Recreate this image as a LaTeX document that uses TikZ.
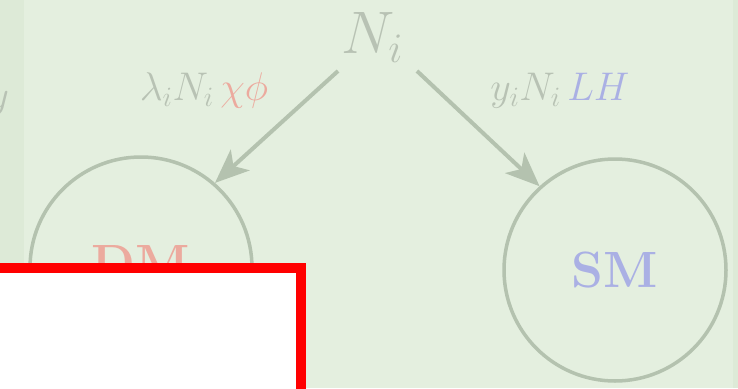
\documentclass[tikz,border=0pt]{standalone}
\usepackage{fix-cm}
\usetikzlibrary{arrows.meta}
\definecolor{bgmain}{RGB}{228,239,223}
\definecolor{bgside}{RGB}{221,234,215}
\definecolor{linec}{RGB}{180,194,175}
\definecolor{textc}{RGB}{184,194,180}
\definecolor{redc}{RGB}{236,170,158}
\definecolor{bluec}{RGB}{170,176,228}
\tikzset{
  circ/.style={circle, draw=linec, line width=3.5pt, minimum size=222pt, inner sep=0pt},
  arr/.style={draw=linec, line width=4pt, -{Stealth[length=34pt,width=28pt,inset=9pt]}},
  lbl/.style={text=textc, anchor=base, inner sep=0pt, font=\fontsize{40}{44}\selectfont},
  big/.style={text=textc, anchor=base, inner sep=0pt, font=\fontsize{60}{66}\selectfont},
  cname/.style={inner sep=0pt, font=\fontsize{51}{56}\selectfont\bfseries}
}
\begin{document}
\begin{tikzpicture}[x=1pt,y=-1pt]
\useasboundingbox (0,0) rectangle (738,388);
\fill[bgside] (0,0) rectangle (738,388);
\fill[bgmain] (24,0) rectangle (733,388);
\node[lbl, anchor=base east] (frag) at (9,108) {$y$};
\node[big] (n) at (372,53) {$N_i$};
\node[circ] (dm) at (141,268) {};
\node[circ] (sm) at (615,270) {};
\node[cname, text=redc] (dmt) at (141,263) {DM};
\node[cname, text=bluec] (smt) at (615,270) {SM};
\coordinate (ls) at (338,71);
\coordinate (rs) at (417,71);
\draw[arr] (ls) -- (dm.49);
\draw[arr] (rs) -- (sm.132);
\node[lbl] (ll) at (204,100) {$\lambda_i N_i\,{\color{redc}\chi\phi}$};
\node[lbl] (rl) at (560,100) {$y_i N_i\,{\color{bluec}LH}$};
\draw[red, line width=10pt, fill=white] (-20,267.5) rectangle (301,400);
\end{tikzpicture}
\end{document}
